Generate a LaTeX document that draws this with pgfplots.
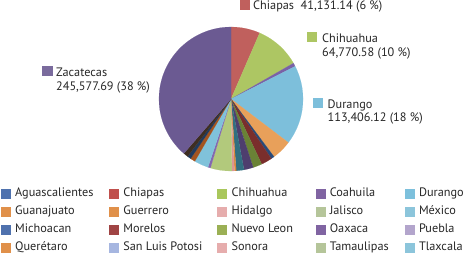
\documentclass[border=0pt]{standalone}
\usepackage{pgfplots}
\pgfplotsset{compat=1.18}
\usepackage{fontspec}
\setmainfont{PT Sans}
% slice colours
\definecolor{sAgu}{HTML}{4F81BD}
\definecolor{sChi}{HTML}{C0605D}
\definecolor{sChh}{HTML}{ADC663}
\definecolor{sCoa}{HTML}{7A62A6}
\definecolor{sDur}{HTML}{7DBFDB}
\definecolor{sGua}{HTML}{E8A05A}
\definecolor{sGue}{HTML}{2A4A78}
\definecolor{sHid}{HTML}{7A2E2C}
\definecolor{sJal}{HTML}{6A8236}
\definecolor{sMex}{HTML}{4E3E6E}
\definecolor{sMic}{HTML}{316F80}
\definecolor{sMor}{HTML}{D98A3C}
\definecolor{sNue}{HTML}{D99694}
\definecolor{sOax}{HTML}{B2C97C}
\definecolor{sPue}{HTML}{8468B0}
\definecolor{sQue}{HTML}{80C2DA}
\definecolor{sSan}{HTML}{A35420}
\definecolor{sSon}{HTML}{213A5C}
\definecolor{sTam}{HTML}{3E2E22}
\definecolor{sZac}{HTML}{6B5A92}
% legend colours
\definecolor{lAgu}{HTML}{4F72AE}
\definecolor{lChi}{HTML}{C0504D}
\definecolor{lChh}{HTML}{A9C75C}
\definecolor{lCoa}{HTML}{8064A2}
\definecolor{lDur}{HTML}{7DC0DC}
\definecolor{lGua}{HTML}{E0904A}
\definecolor{lHid}{HTML}{E6ADAD}
\definecolor{lJal}{HTML}{B5C59A}
\definecolor{lMex}{HTML}{8CC5DB}
\definecolor{lMor}{HTML}{A04444}
\definecolor{lNue}{HTML}{9BB055}
\definecolor{lPue}{HTML}{B3A5CC}
\definecolor{lSan}{HTML}{A6B6E0}
\definecolor{txt}{HTML}{262626}

\def\piedata{300/sAgu, 41131.14/sChi, 64770.58/sChh, 5000/sCoa, 113406.12/sDur,
 28400/sGua, 4600/sGue, 15600/sHid, 12900/sJal, 13300/sMex, 11000/sMic,
 2500/sMor, 3700/sNue, 30500/sOax, 3600/sPue, 20300/sQue, 7000/sSan,
 5200/sSon, 6800/sTam, 245577.69/sZac}
\newcommand\lfont{\fontsize{12.3}{14}\selectfont}
\newcommand\legent[3]{\addlegendimage{fill=#1}\addlegendentry{\makebox[#2bp][l]{\lfont #3}}}

\begin{document}
\begin{tikzpicture}[x=1bp,y=1bp,font=\lfont,text=txt]
\path[use as bounding box] (0,0) rectangle (465,256);
\gdef\total{0}
\foreach \v/\c in \piedata {\xdef\total{\fpeval{\total+\v}}}
\begin{axis}[
  at={(159bp,85bp)}, anchor=south west,
  width=144bp, height=144bp, scale only axis,
  xmin=-1, xmax=1, ymin=-1, ymax=1,
  hide axis, clip=false,
  legend columns=5,
  legend cell align=left,
  legend image code/.code={\fill[#1, draw=none] (0bp,-4.8bp) rectangle (10bp,4.8bp); \path (12bp,0bp);},
  legend style={draw=none, fill=none, inner sep=0pt, outer sep=0pt,
    anchor=north west, at={(axis description cs:-1.0972,-0.125)},
    text=txt,
    row sep=8.5bp, column sep=0pt,
    nodes={text=txt, inner ysep=0pt, inner xsep=2bp, outer sep=0pt, text height=7.5bp, text depth=2bp}},
]
\gdef\cum{0}
\foreach \v/\c in \piedata {
  \edef\s{\fpeval{90-360*\cum/\total}}
  \edef\e{\fpeval{90-360*(\cum+\v)/\total}}
  \edef\tmp{\noexpand\addplot[fill=\c, draw=\c, line width=0.1bp, domain=\e:\s, samples=80, forget plot]
     ({cos(x)},{sin(x)}) -- (axis cs:0,0) -- cycle;}
  \tmp
  \xdef\cum{\fpeval{\cum+\v}}
}
\legent{lAgu}{92}{Aguascalientes}
\legent{lChi}{92}{Chiapas}
\legent{lChh}{82}{Chihuahua}
\legent{lCoa}{73}{Coahuila}
\legent{lDur}{50}{Durango}
\legent{lGua}{92}{Guanajuato}
\legent{lGua}{92}{Guerrero}
\legent{lHid}{82}{Hidalgo}
\legent{lJal}{73}{Jalisco}
\legent{lMex}{50}{México}
\legent{lAgu}{92}{Michoacan}
\legent{lMor}{92}{Morelos}
\legent{lNue}{82}{Nuevo Leon}
\legent{lCoa}{73}{Oaxaca}
\legent{lPue}{50}{Puebla}
\legent{lGua}{92}{Querétaro}
\legent{lSan}{92}{San Luis Potosi}
\legent{lHid}{82}{Sonora}
\legent{lJal}{73}{Tamaulipas}
\legent{lMex}{50}{Tlaxcala}
\end{axis}
% data labels
\fill[sChi] (240,246) rectangle (250,256);
\node[anchor=base west, inner sep=0] at (253,246.5) {Chiapas\ \ 41,131.14 (6 \%)};
\fill[sChh] (307,214) rectangle (317,224);
\node[anchor=base west, inner sep=0] at (322,213.5) {Chihuahua};
\node[anchor=base west, inner sep=0] at (322,199.5) {64,770.58 (10 \%)};
\fill[sDur] (313,148) rectangle (323,158);
\node[anchor=base west, inner sep=0] at (327.5,148) {Durango};
\node[anchor=base west, inner sep=0] at (327.5,134.5) {113,406.12 (18 \%)};
\fill[sZac!90!white] (42,180) rectangle (53,190);
\node[anchor=base west, inner sep=0] at (56,180) {Zacatecas};
\node[anchor=base west, inner sep=0] at (56,165.5) {245,577.69 (38 \%)};
\end{tikzpicture}
\end{document}
